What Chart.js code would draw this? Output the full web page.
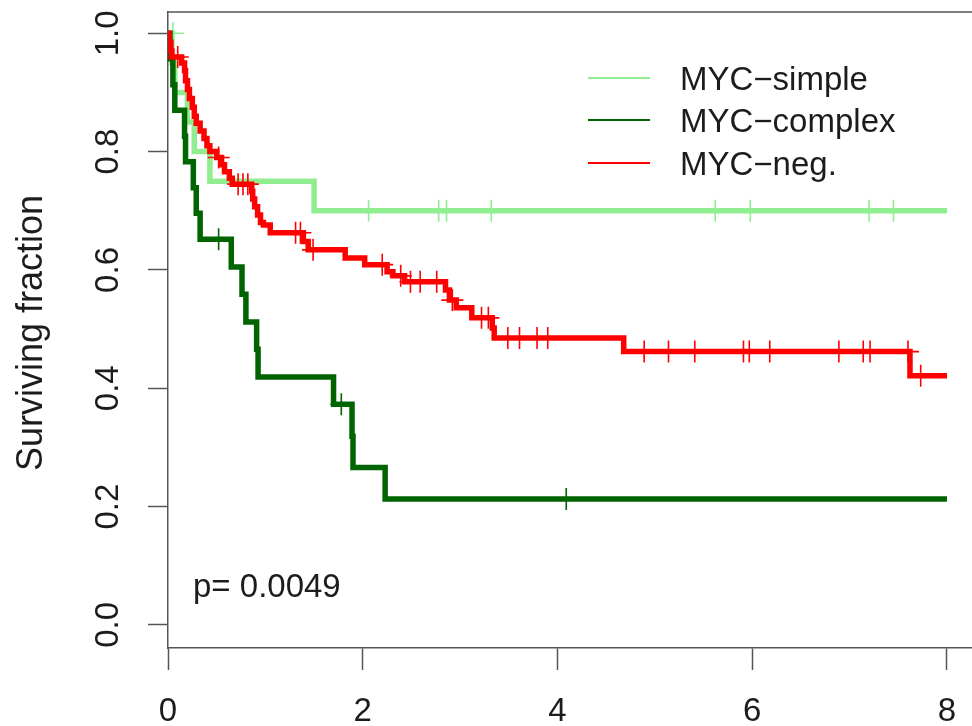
<!DOCTYPE html>
<html lang="en">
<head>
    <meta charset="UTF-8">
    <title>Surviving fraction by MYC status</title>
    <script src="https://cdn.jsdelivr.net/npm/chart.js"></script>
    <style>
        body {
            margin: 0;
            background: #ffffff;
        }

        #wrap {
            width: 972px;
            height: 726px;
        }
    </style>
</head>
<body>

    <div id="wrap">
        <canvas id="kmChart" width="972" height="726"></canvas>
    </div>

    <script>
        // Kaplan-Meier curves: step times (years) and surviving fraction after each step
        const groupNames = ["MYC−simple", "MYC−complex", "MYC−neg."];
        const groupColors = ["#90ee90", "#006400", "#ff0000"];

        const simpleTimes = [0, 0.04, 0.07, 0.20, 0.27, 0.43, 1.50, 8.0];
        const simpleSurv = [1, 0.95, 0.90, 0.85, 0.80, 0.75, 0.70, 0.70];
        const simpleCensorTimes = [0.05, 2.06, 2.78, 2.86, 3.32, 5.62, 5.98, 7.20, 7.45];
        const simpleCensorSurv = [1, 0.70, 0.70, 0.70, 0.70, 0.70, 0.70, 0.70, 0.70];

        const complexTimes = [0, 0.02, 0.05, 0.07, 0.17, 0.18, 0.26, 0.29, 0.33, 0.65, 0.76, 0.80, 0.91, 0.925, 1.70, 1.89, 1.90, 2.23, 8.0];
        const complexSurv = [1, 0.957, 0.913, 0.870, 0.826, 0.783, 0.739, 0.696, 0.652, 0.605, 0.559, 0.512, 0.466, 0.419, 0.373, 0.319, 0.266, 0.213, 0.213];
        const complexCensorTimes = [0.52, 1.78, 4.09];
        const complexCensorSurv = [0.652, 0.373, 0.213];

        const negTimes = [0, 0.01, 0.03, 0.04, 0.14, 0.17, 0.18, 0.20, 0.22, 0.25, 0.27, 0.29, 0.33, 0.37, 0.40, 0.43, 0.50, 0.55,
            0.58, 0.63, 0.66, 0.86, 0.87, 0.89, 0.92, 0.95, 0.98, 1.05, 1.39, 1.44, 1.82, 2.02, 2.25, 2.31, 2.43, 2.85, 2.89,
            2.96, 3.12, 3.33, 3.35, 4.68, 7.62, 8.0];
        const negSurv = [1, 0.985, 0.97, 0.96, 0.95, 0.937, 0.92, 0.905, 0.89, 0.875, 0.86, 0.848, 0.835, 0.822, 0.81, 0.80, 0.79, 0.778,
            0.766, 0.755, 0.745, 0.733, 0.72, 0.707, 0.693, 0.68, 0.676, 0.663, 0.648, 0.634, 0.62, 0.609, 0.597, 0.59, 0.58, 0.566, 0.549,
            0.536, 0.519, 0.502, 0.485, 0.462, 0.421, 0.421];
        const negCensorTimes = [0.10, 0.52, 0.72, 0.77, 0.82, 1.31, 1.36, 1.49, 2.20, 2.39, 2.49, 2.59, 2.76, 2.92, 3.22, 3.29,
            3.49, 3.61, 3.79, 3.90, 4.89, 5.14, 5.41, 5.91, 5.97, 6.18, 6.89, 7.14, 7.21, 7.60, 7.73];
        const negCensorSurv = [0.96, 0.79, 0.745, 0.745, 0.745, 0.663, 0.663, 0.634, 0.609, 0.59, 0.58, 0.58, 0.58, 0.549, 0.519, 0.519,
            0.485, 0.485, 0.485, 0.485, 0.462, 0.462, 0.462, 0.462, 0.462, 0.462, 0.462, 0.462, 0.462, 0.462, 0.421];

        const xTicks = [0, 2, 4, 6, 8];
        const yTicks = [0, 0.2, 0.4, 0.6, 0.8, 1.0];
        const yTickLabels = ["0.0", "0.2", "0.4", "0.6", "0.8", "1.0"];
        const yTitle = "Surviving fraction";
        const pValueText = "p= 0.0049";

        const FONT = "'Liberation Sans', Arial, sans-serif";
        const AXIS_COLOR = "#555555";
        const TEXT_COLOR = "#1c1c1c";

        function toPoints(xs, ys) {
            return xs.map((x, i) => ({ x: x, y: ys[i] }));
        }

        function curve(label, xs, ys, color, order) {
            return {
                label: label,
                data: toPoints(xs, ys),
                borderColor: color,
                borderWidth: 5.5,
                stepped: "before",
                pointRadius: 0,
                fill: false,
                borderJoinStyle: "miter",
                order: order
            };
        }

        function censorMarks(xs, ys, color, order) {
            return {
                label: "",
                data: toPoints(xs, ys),
                showLine: false,
                pointStyle: "cross",
                pointRadius: 11,
                pointBorderWidth: 1.6,
                pointBorderColor: color,
                pointBackgroundColor: color,
                order: order
            };
        }

        // frame, rotated y labels, axis title, legend and p-value
        const decorations = {
            id: "decorations",
            afterDraw(chart) {
                const ctx = chart.ctx;
                const area = chart.chartArea;
                const y = chart.scales.y;

                ctx.save();
                ctx.strokeStyle = AXIS_COLOR;
                ctx.lineWidth = 1.5;
                ctx.beginPath();
                ctx.moveTo(area.left, area.top);
                ctx.lineTo(area.right, area.top);
                ctx.stroke();

                ctx.fillStyle = TEXT_COLOR;
                ctx.font = "33px " + FONT;
                ctx.textAlign = "center";
                ctx.textBaseline = "alphabetic";
                yTicks.forEach((v, i) => {
                    ctx.save();
                    ctx.translate(118, y.getPixelForValue(v));
                    ctx.rotate(-Math.PI / 2);
                    ctx.fillText(yTickLabels[i], 0, 0);
                    ctx.restore();
                });

                ctx.save();
                ctx.font = "36px " + FONT;
                ctx.translate(42, 333);
                ctx.rotate(-Math.PI / 2);
                ctx.fillText(yTitle, 0, 0);
                ctx.restore();

                ctx.textAlign = "left";
                ctx.font = "33px " + FONT;
                ctx.fillText(pValueText, 193, 597);

                // legend, top right
                const legendBase = [90, 132, 175];
                groupNames.forEach((name, i) => {
                    ctx.strokeStyle = groupColors[i];
                    ctx.lineWidth = 2;
                    ctx.beginPath();
                    ctx.moveTo(588, legendBase[i] - 12);
                    ctx.lineTo(650, legendBase[i] - 12);
                    ctx.stroke();
                    ctx.fillStyle = TEXT_COLOR;
                    ctx.fillText(name, 680, legendBase[i]);
                });
                ctx.restore();
            }
        };

        const ctx = document.getElementById("kmChart").getContext("2d");
        new Chart(ctx, {
            type: "line",
            data: {
                datasets: [
                    curve(groupNames[2], negTimes, negSurv, groupColors[2], 1),
                    censorMarks(negCensorTimes, negCensorSurv, groupColors[2], 1),
                    curve(groupNames[1], complexTimes, complexSurv, groupColors[1], 2),
                    censorMarks(complexCensorTimes, complexCensorSurv, groupColors[1], 2),
                    curve(groupNames[0], simpleTimes, simpleSurv, groupColors[0], 3),
                    censorMarks(simpleCensorTimes, simpleCensorSurv, groupColors[0], 3)
                ]
            },
            options: {
                responsive: false,
                animation: false,
                layout: {
                    autoPadding: false,
                    padding: { top: 12, right: 0, left: 0, bottom: 0 }
                },
                plugins: {
                    legend: { display: false },
                    tooltip: { enabled: false }
                },
                scales: {
                    x: {
                        type: "linear",
                        position: "bottom",
                        min: 0,
                        max: 8.257,
                        afterBuildTicks: axis => { axis.ticks = xTicks.map(v => ({ value: v })); },
                        afterFit: axis => {
                            axis.height = 78;
                            axis.paddingLeft = 0;
                            axis.paddingRight = 0;
                        },
                        grid: {
                            drawOnChartArea: false,
                            drawTicks: true,
                            tickLength: 22,
                            tickColor: AXIS_COLOR,
                            tickWidth: 1.5
                        },
                        border: { display: true, color: AXIS_COLOR, width: 1.5 },
                        ticks: {
                            autoSkip: false,
                            maxRotation: 0,
                            padding: 22,
                            color: TEXT_COLOR,
                            font: { family: FONT, size: 33 }
                        }
                    },
                    y: {
                        type: "linear",
                        position: "left",
                        min: -0.039,
                        max: 1.036,
                        afterBuildTicks: axis => { axis.ticks = yTicks.map(v => ({ value: v })); },
                        afterFit: axis => {
                            axis.width = 168;
                            axis.paddingTop = 0;
                            axis.paddingBottom = 0;
                        },
                        grid: {
                            drawOnChartArea: false,
                            drawTicks: true,
                            tickLength: 20,
                            tickColor: AXIS_COLOR,
                            tickWidth: 1.5
                        },
                        border: { display: true, color: AXIS_COLOR, width: 1.5 },
                        ticks: { display: false }
                    }
                }
            },
            plugins: [decorations]
        });
    </script>

</body>
</html>
